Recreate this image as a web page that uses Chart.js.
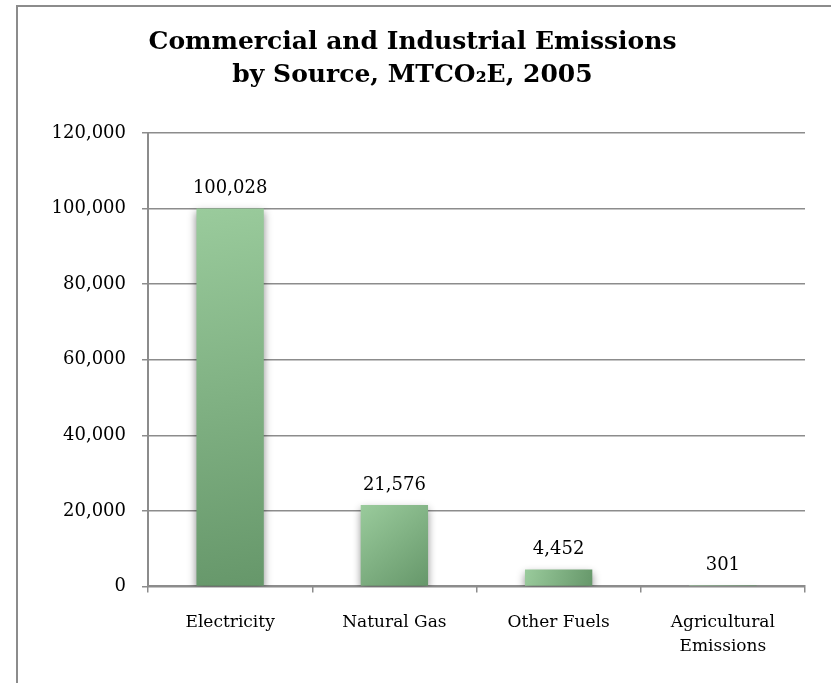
<!DOCTYPE html>
<html>
<head>
<meta charset="utf-8">
<script src="https://cdn.jsdelivr.net/npm/chart.js@4.4.1/dist/chart.umd.min.js"></script>
<style>
    html, body { margin: 0; padding: 0; background: #fff; overflow: hidden; }
    #frame { position: absolute; left: 16px; top: 5px; width: 900px; height: 800px; border: 2px solid #8c8c8c; }
    #wrap { position: absolute; left: 0; top: 0; width: 831px; height: 683px; }
</style>
</head>
<body>
<div id="frame"></div>
<div id="wrap"><canvas id="chart" width="831" height="683"></canvas></div>
<script>
// chart data
const categories = ['Electricity', 'Natural Gas', 'Other Fuels', ['Agricultural', 'Emissions']];
const emissions = [100028, 21576, 4452, 301];
const yMin = 0;
const yMax = 120000;
const yStep = 20000;

const SERIF = '"DejaVu Serif", Georgia, serif';
const AXIS_GREY = '#8c8c8c';
const BAR_PCT = 0.41;

function fmt(v) { return Number(v).toLocaleString('en-US'); }

// diagonal gradient per bar: light top-left, darker bottom-right
function barFill(c) {
    const chart = c.chart;
    if (!chart.chartArea || !chart.scales.x || !chart.scales.y) return '#80b282';
    const xs = chart.scales.x, ys = chart.scales.y;
    const cx = xs.getPixelForValue(c.dataIndex);
    const half = (xs.width / categories.length) * BAR_PCT / 2;
    const top = ys.getPixelForValue(emissions[c.dataIndex]);
    const base = ys.getPixelForValue(0);
    const g = chart.ctx.createLinearGradient(cx - half, top, cx + half, base);
    g.addColorStop(0, '#9acb9c');
    g.addColorStop(1, '#66976a');
    return g;
}

const barShadow = {
    id: 'barShadow',
    beforeDatasetsDraw(chart) {
        const ctx = chart.ctx;
        ctx.save();
        ctx.shadowColor = 'rgba(0,0,0,0.45)';
        ctx.shadowBlur = 8;
        ctx.shadowOffsetY = 4;
    },
    afterDatasetsDraw(chart) {
        chart.ctx.restore();
    }
};

const valueLabels = {
    id: 'valueLabels',
    afterDraw(chart) {
        const ctx = chart.ctx;
        const meta = chart.getDatasetMeta(0);
        ctx.save();
        ctx.font = '18px ' + SERIF;
        ctx.fillStyle = '#000';
        ctx.textAlign = 'center';
        ctx.textBaseline = 'bottom';
        meta.data.forEach((el, i) => {
            ctx.fillText(fmt(emissions[i]), el.x, el.y - 11);
        });
        ctx.restore();
    }
};

new Chart(document.getElementById('chart'), {
    type: 'bar',
    data: {
        labels: categories,
        datasets: [{
            data: emissions,
            backgroundColor: barFill,
            borderWidth: 0,
            categoryPercentage: 1,
            barPercentage: BAR_PCT
        }]
    },
    options: {
        responsive: false,
        animation: false,
        layout: { padding: { left: 20, right: 26, top: 12, bottom: 7 } },
        plugins: {
            legend: { display: false },
            tooltip: { enabled: false },
            title: {
                display: true,
                text: ['Commercial and Industrial Emissions', 'by Source, MTCO\u2082E, 2005'],
                color: '#000',
                font: { family: SERIF, size: 25, weight: 'bold', lineHeight: 1.32 },
                padding: { top: 14, bottom: 41 }
            }
        },
        scales: {
            x: {
                grid: { drawOnChartArea: false, drawTicks: true, tickLength: 6, color: AXIS_GREY, lineWidth: 1.5 },
                border: { color: AXIS_GREY, width: 2 },
                ticks: { color: '#000', font: { family: SERIF, size: 17, lineHeight: 1.4 }, padding: 18, maxRotation: 0 }
            },
            y: {
                min: yMin,
                max: yMax,
                grid: { color: AXIS_GREY, lineWidth: 1.5, tickLength: 6 },
                border: { color: AXIS_GREY, width: 2 },
                ticks: {
                    stepSize: yStep,
                    color: '#000',
                    font: { family: SERIF, size: 18 },
                    padding: 16,
                    callback: (v) => fmt(v)
                },
                afterFit(scale) { scale.width = 128; }
            }
        }
    },
    plugins: [barShadow, valueLabels]
});
</script>
</body>
</html>
